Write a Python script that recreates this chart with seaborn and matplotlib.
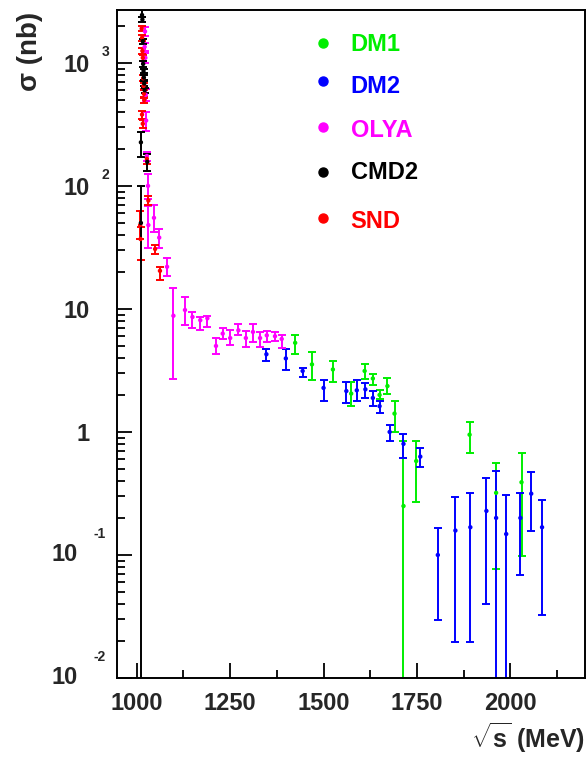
import numpy as np
import pandas as pd
import matplotlib
matplotlib.use("Agg")
import matplotlib.pyplot as plt
import seaborn as sns
from matplotlib.ticker import MultipleLocator, FixedLocator, LogLocator, NullFormatter

# ---------------- data ----------------
# DM1 (green)
dm1_x  = [1424, 1469, 1525, 1574, 1610, 1632, 1650, 1671, 1690, 1714, 1748, 1891, 1962, 2030]
dm1_y  = [5.3, 3.54, 3.22, 2.05, 3.13, 2.72, 2.0, 2.36, 1.41, 0.25, 0.58, 0.95, 0.32, 0.39]
dm1_lo = [4.3, 2.63, 2.54, 1.62, 2.67, 2.4, 1.84, 2.04, 0.99, 0.001, 0.27, 0.68, 0.077, 0.098]
dm1_hi = [6.14, 4.5, 3.77, 2.53, 3.6, 2.94, 2.2, 2.76, 1.78, 0.84, 0.84, 1.2, 0.56, 0.67]

# DM2 (blue)
dm2_x  = [1347, 1399, 1444, 1500, 1561, 1589, 1612, 1632, 1650, 1677, 1714, 1759,
          1806, 1853, 1893, 1936, 1962, 1989, 2027, 2056, 2085]
dm2_y  = [4.28, 3.96, 3.13, 2.28, 2.15, 2.18, 2.22, 1.89, 1.62, 1.0, 0.80, 0.63,
          0.100, 0.158, 0.168, 0.228, 0.20, 0.148, 0.20, 0.315, 0.168]
dm2_lo = [3.77, 3.16, 2.79, 1.80, 1.72, 1.78, 1.89, 1.62, 1.43, 0.84, 0.61, 0.52,
          0.0298, 0.0197, 0.0197, 0.040, 0.001, 0.001, 0.0687, 0.158, 0.0328]
dm2_hi = [4.7, 4.7, 3.33, 2.63, 2.54, 2.63, 2.5, 2.15, 1.78, 1.13, 0.96, 0.74,
          0.165, 0.294, 0.316, 0.42, 0.48, 0.31, 0.316, 0.47, 0.28]

# OLYA (magenta)
olya_x  = [1021, 1022, 1023, 1024, 1025, 1027, 1030, 1031, 1046, 1060, 1081, 1098, 1129, 1149,
           1170, 1189, 1212, 1230, 1250, 1272, 1292, 1311, 1330, 1348, 1370, 1388]
olya_y  = [1350, 1800, 1100, 550, 340, 175, 100, 48, 55, 38, 22, 8.8, 9.8, 8.6,
           8.1, 8.4, 5.0, 6.3, 5.8, 6.7, 5.8, 6.5, 5.8, 6.1, 6.0, 5.7]
olya_lo = [1250, 1650, 1000, 490, 282, 160, 78, 31, 42, 31.5, 18.6, 2.67, 7.4, 7.0,
           6.7, 7.1, 4.3, 5.7, 5.1, 6.1, 4.9, 5.4, 4.9, 5.4, 5.5, 4.8]
olya_hi = [1450, 1950, 1200, 610, 400, 190, 125, 69, 70, 45, 26, 14.7, 12.4, 9.5,
           8.6, 8.8, 5.8, 7.0, 6.7, 7.6, 6.6, 7.6, 6.5, 6.6, 6.5, 6.1]

# CMD2 (black)
cmd2_x  = [1011, 1011, 1014, 1015, 1016, 1017, 1018, 1019, 1020, 1021, 1028]
cmd2_y  = [50, 226, 2450, 2250, 1500, 980, 860, 760, 680, 600, 157]
cmd2_lo = [0.001, 171, 2350, 2150, 1430, 930, 820, 720, 650, 570, 133]
cmd2_hi = [100, 274, 2700, 2350, 1570, 1030, 900, 800, 710, 630, 183]

# SND (red)
snd_x  = [1009, 1010, 1013, 1014, 1015, 1016, 1017, 1018, 1019, 1020, 1014, 1016, 1027, 1031, 1049, 1062]
snd_y  = [48, 37, 1900, 1600, 1250, 1100, 750, 650, 560, 500, 380, 320, 166, 76, 30.7, 20.4]
snd_lo = [37, 25, 1800, 1500, 1180, 1040, 710, 610, 520, 470, 350, 295, 150, 70, 28, 17.1]
snd_hi = [63, 46, 2000, 1700, 1320, 1160, 790, 690, 600, 530, 410, 345, 182, 82, 33, 22]

series_names  = ["DM1", "DM2", "OLYA", "CMD2", "SND"]
series_colors = ["#00ee00", "#0000ff", "#ff00ff", "#000000", "#ff0000"]

x_ticks = [1000, 1250, 1500, 1750, 2000]
x_ticklabels = ["1000", "1250", "1500", "1750", "2000"]
y_ticks = [1e-2, 1e-1, 1, 10, 1e2, 1e3]
y_tick_base = ["10", "10", "1", "10", "10", "10"]
y_tick_exp = ["-2", "-1", "", "", "2", "3"]

# ---------------- build table ----------------
data = {
    "DM1": (dm1_x, dm1_y, dm1_lo, dm1_hi),
    "DM2": (dm2_x, dm2_y, dm2_lo, dm2_hi),
    "OLYA": (olya_x, olya_y, olya_lo, olya_hi),
    "CMD2": (cmd2_x, cmd2_y, cmd2_lo, cmd2_hi),
    "SND": (snd_x, snd_y, snd_lo, snd_hi),
}
frames = []
for name in series_names:
    x, y, lo, hi = data[name]
    frames.append(pd.DataFrame({"E": x, "sigma": y, "lo": lo, "hi": hi, "exp": name}))
df = pd.concat(frames, ignore_index=True)

# ---------------- style ----------------
sns.set_style("white")
plt.rcParams["font.family"] = ["Liberation Sans", "DejaVu Sans"]
plt.rcParams["font.weight"] = "bold"
plt.rcParams["mathtext.fontset"] = "custom"
plt.rcParams["mathtext.rm"] = "Liberation Sans:bold"
plt.rcParams["mathtext.bf"] = "Liberation Sans:bold"

fig = plt.figure(figsize=(5.87, 7.63), dpi=100)
ax = fig.add_axes([117 / 587, 85 / 763, 468 / 587, 668 / 763])

draw_order = ["DM1", "DM2", "OLYA", "SND", "CMD2"]
pal = dict(zip(series_names, series_colors))
for name in draw_order:
    sub = df[df["exp"] == name]
    yerr = np.vstack([sub["sigma"] - sub["lo"], sub["hi"] - sub["sigma"]])
    ax.errorbar(sub["E"], sub["sigma"], yerr=yerr, fmt="none", ecolor=pal[name],
                elinewidth=1.4, capsize=2.6, capthick=1.4, zorder=2)
    sns.scatterplot(data=sub, x="E", y="sigma", color=pal[name], s=10,
                    edgecolor="none", ax=ax, zorder=3, legend=False)

ax.set_yscale("log")
ax.set_xlim(947, 2200)
ax.set_ylim(0.01, 2690)
ax.set_xlabel("")
ax.set_ylabel("")

# ticks
ax.xaxis.set_major_locator(FixedLocator(x_ticks))
ax.xaxis.set_minor_locator(MultipleLocator(125))
ax.set_xticklabels(x_ticklabels, fontsize=17, fontweight="bold")
ax.yaxis.set_major_locator(FixedLocator(y_ticks))
ax.yaxis.set_minor_locator(LogLocator(base=10, subs=np.arange(2, 10)))
ax.yaxis.set_minor_formatter(NullFormatter())
ax.set_yticklabels([""] * len(y_ticks))
ax.tick_params(axis="both", which="major", direction="in", length=11, width=1.3,
               top=False, right=False, left=True, bottom=True, color="black")
ax.tick_params(axis="both", which="minor", direction="in", length=5.5, width=1.3,
               top=False, right=False, left=True, bottom=True, color="black")
ax.tick_params(axis="x", which="major", pad=10)

for sp in ax.spines.values():
    sp.set_linewidth(1.4)
    sp.set_color("black")

# y tick labels ROOT-like: base + raised exponent
ytr = ax.get_yaxis_transform()
for v, base, ex in zip(y_ticks, y_tick_base, y_tick_exp):
    neg = ex.startswith("-")
    bx = (78 - 117) / 468 if neg else (90 - 117) / 468
    boff = 0 if neg else -2
    ax.annotate(base, xy=(bx, v), xycoords=ytr, xytext=(0, boff), textcoords="offset points",
                ha="right", va="center", fontsize=17, fontweight="bold", annotation_clip=False)
    if ex:
        ex_x = (93 - 117) / 468 if neg else (102 - 117) / 468
        eoff = 15 if neg else 8
        ax.annotate(ex, xy=(ex_x, v), xycoords=ytr, xytext=(0, eoff), textcoords="offset points",
                    ha="left", va="center", fontsize=10, fontweight="bold", annotation_clip=False)

# legend (manual, ROOT style)
mk_y = [0.951, 0.893, 0.825, 0.758, 0.689]
tx_y = [0.949, 0.885, 0.819, 0.757, 0.684]
for name, c, my, ty in zip(series_names, series_colors, mk_y, tx_y):
    ax.plot([0.440], [my], "o", color=c, markersize=6.5, transform=ax.transAxes, clip_on=False)
    ax.text(0.499, ty, name, color=c, fontsize=17, fontweight="bold",
            transform=ax.transAxes, ha="left", va="center")

# axis titles
fig.text(585 / 587, 1 - 738 / 763, r"$\mathbf{\sqrt{s}}$ (MeV)", ha="right", va="center",
         fontsize=18, fontweight="bold")
fig.text(30 / 587, 1 - 12 / 763, "σ (nb)", rotation=90, ha="center", va="top",
         fontsize=20, fontweight="bold")

fig.savefig("out.png", dpi=100)
